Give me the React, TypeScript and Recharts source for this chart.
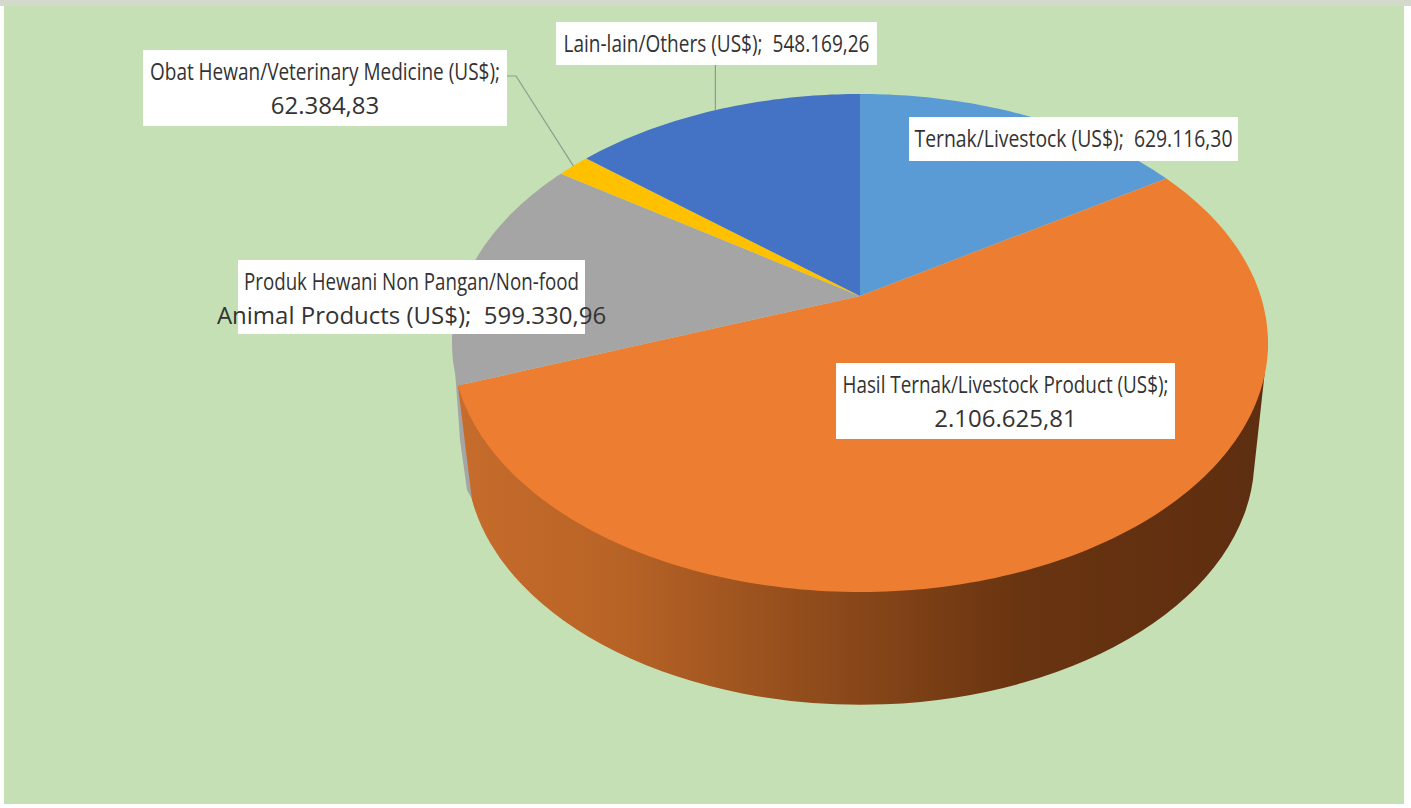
import { Pie, PieChart } from "recharts";

const categories = [
  "Ternak/Livestock",
  "Hasil Ternak/Livestock Product",
  "Produk Hewani Non Pangan/Non-food Animal Products",
  "Obat Hewan/Veterinary Medicine",
  "Lain-lain/Others",
];
const values = [629116.3, 2106625.81, 599330.96, 62384.83, 548169.26];
const colors = ["#5B9BD5", "#ED7D31", "#A5A5A5", "#FFC000", "#4472C4"];

const slices = categories.map((name, i) => ({ name, value: values[i], fill: colors[i] }));

// label boxes, same order as the categories
const LABELS = [
  { x: 909, y: 117, w: 329, h: 44, split: "", fit: 318 },
  { x: 836, y: 363, w: 339, h: 76, split: "(US$);", fit: 326 },
  { x: 238, y: 260, w: 347, h: 74, split: "Non-food", fit: 335 },
  { x: 143, y: 50, w: 364, h: 76, split: "(US$);", fit: 350 },
  { x: 556, y: 22, w: 321, h: 43, split: "", fit: 306 },
];

const W = 1411;
const H = 808;
const CX = 860;
const CY = 343;
const RX = 408;
const RY = 249;
// how far the perspective pushes the pie's apex up, as share of RY
const TILT = 0.189;
const DEPTH = 127;
const BOTTOM_RX = 394;
const BOTTOM_RY = 246;

const RAD = Math.PI / 180;

// angle on the flat pie -> point on the tilted top face
function project(deg: number) {
  const x = Math.cos(deg * RAD);
  const y = Math.sin(deg * RAD);
  const k = 1 + TILT * y;
  return {
    x: CX + (RX * x * Math.sqrt(1 - TILT * TILT)) / k,
    y: CY - (RY * (y + TILT)) / k,
  };
}

function TopFace(props: any) {
  const { startAngle, endAngle, fill } = props;
  const steps = Math.max(2, Math.ceil(Math.abs(endAngle - startAngle)));
  let d = `M${CX},${CY - RY * TILT}`;
  for (let i = 0; i <= steps; i++) {
    const p = project(startAngle + ((endAngle - startAngle) * i) / steps);
    d += `L${p.x.toFixed(1)},${p.y.toFixed(1)}`;
  }
  return <path d={d + "Z"} fill={fill} />;
}

function Wall(props: any) {
  const { name, fill } = props;
  const by = CY + DEPTH;
  if (fill === colors[2]) {
    return (
      <path
        d={`M455,370L460,440L467,490L${CX - BOTTOM_RX + 12},510L480,400Z`}
        fill={fill}
        data-name={name}
      />
    );
  }
  if (fill === colors[1]) {
    return (
      <path
        d={`M${CX + RX},${CY}L${CX + BOTTOM_RX},${by}A${BOTTOM_RX},${BOTTOM_RY} 0 0 1 ${CX - BOTTOM_RX + 6},${by + 30}L458,386Z`}
        fill="url(#wallFill)"
        data-name={name}
      />
    );
  }
  return <g />;
}

function money(v: number) {
  const [a, b] = v.toFixed(2).split(".");
  return `${a.replace(/\B(?=(\d{3})+$)/g, ".")},${b}`;
}

function SliceLabel(props: any) {
  const { index, name, value, midAngle } = props;
  const box = LABELS[index];
  const full = `${name} (US$);  ${money(value)}`;
  let lines = [full];
  if (box.split) {
    const at = full.indexOf(box.split) + box.split.length;
    lines = [full.slice(0, at).trim(), full.slice(at).trim()];
  }
  const tip = project(midAngle);
  const midX = box.x + box.w / 2;
  return (
    <g>
      {index === 3 && (
        <polyline
          points={`${box.x + box.w},${box.y + 26} ${box.x + box.w + 9},${box.y + 26} ${tip.x},${tip.y}`}
          fill="none"
          stroke="#8f9c8c"
          strokeWidth={1.2}
        />
      )}
      {index === 4 && (
        <line x1={tip.x} y1={box.y + box.h} x2={tip.x} y2={tip.y} stroke="#8f9c8c" strokeWidth={1.2} />
      )}
      <rect x={box.x} y={box.y} width={box.w} height={box.h} fill="#ffffff" />
      {lines.map((t, i) => (
        <text
          key={i}
          x={midX}
          y={box.y + 30 + i * 34}
          textAnchor="middle"
          textLength={i === 0 ? box.fit : undefined}
          lengthAdjust="spacingAndGlyphs"
          fontFamily='"Liberation Sans Narrow", "Open Sans", sans-serif'
          fontSize={24}
          fill="#333333"
          style={{ whiteSpace: "pre" }}
        >
          {t}
        </text>
      ))}
    </g>
  );
}

export default function App() {
  return (
    <div style={{ position: "absolute", left: 0, top: 0, width: W, height: H, background: "#ffffff", overflow: "hidden" }}>
      <div style={{ position: "absolute", left: 0, top: 0, width: W, height: 6, background: "#d3dacb" }} />
      <div style={{ position: "absolute", left: 4, top: 6, width: 1400, height: 798, background: "#C5E0B4" }} />
      <PieChart width={W} height={H} margin={{ top: 0, right: 0, bottom: 0, left: 0 }} style={{ position: "absolute", left: 0, top: 0 }}>
        <defs>
          <linearGradient id="wallFill" gradientUnits="userSpaceOnUse" x1={460} y1={0} x2={1260} y2={0}>
            <stop offset="0%" stopColor="#C66C2C" />
            <stop offset="20%" stopColor="#B86326" />
            <stop offset="45%" stopColor="#8F4B1B" />
            <stop offset="70%" stopColor="#693410" />
            <stop offset="100%" stopColor="#5E2E10" />
          </linearGradient>
        </defs>
        {/* walls first, reversed so the orange wall lands over the grey one */}
        <Pie
          data={[...slices].reverse()}
          dataKey="value"
          nameKey="name"
          cx={CX}
          cy={CY}
          outerRadius={RX}
          startAngle={-270}
          endAngle={90}
          stroke="none"
          legendType="none"
          shape={Wall}
          label={false}
          labelLine={false}
          isAnimationActive={false}
        />
        <Pie
          data={slices}
          dataKey="value"
          nameKey="name"
          cx={CX}
          cy={CY}
          outerRadius={RX}
          startAngle={90}
          endAngle={-270}
          stroke="none"
          legendType="none"
          shape={TopFace}
          label={SliceLabel}
          labelLine={false}
          isAnimationActive={false}
        />
      </PieChart>
    </div>
  );
}
